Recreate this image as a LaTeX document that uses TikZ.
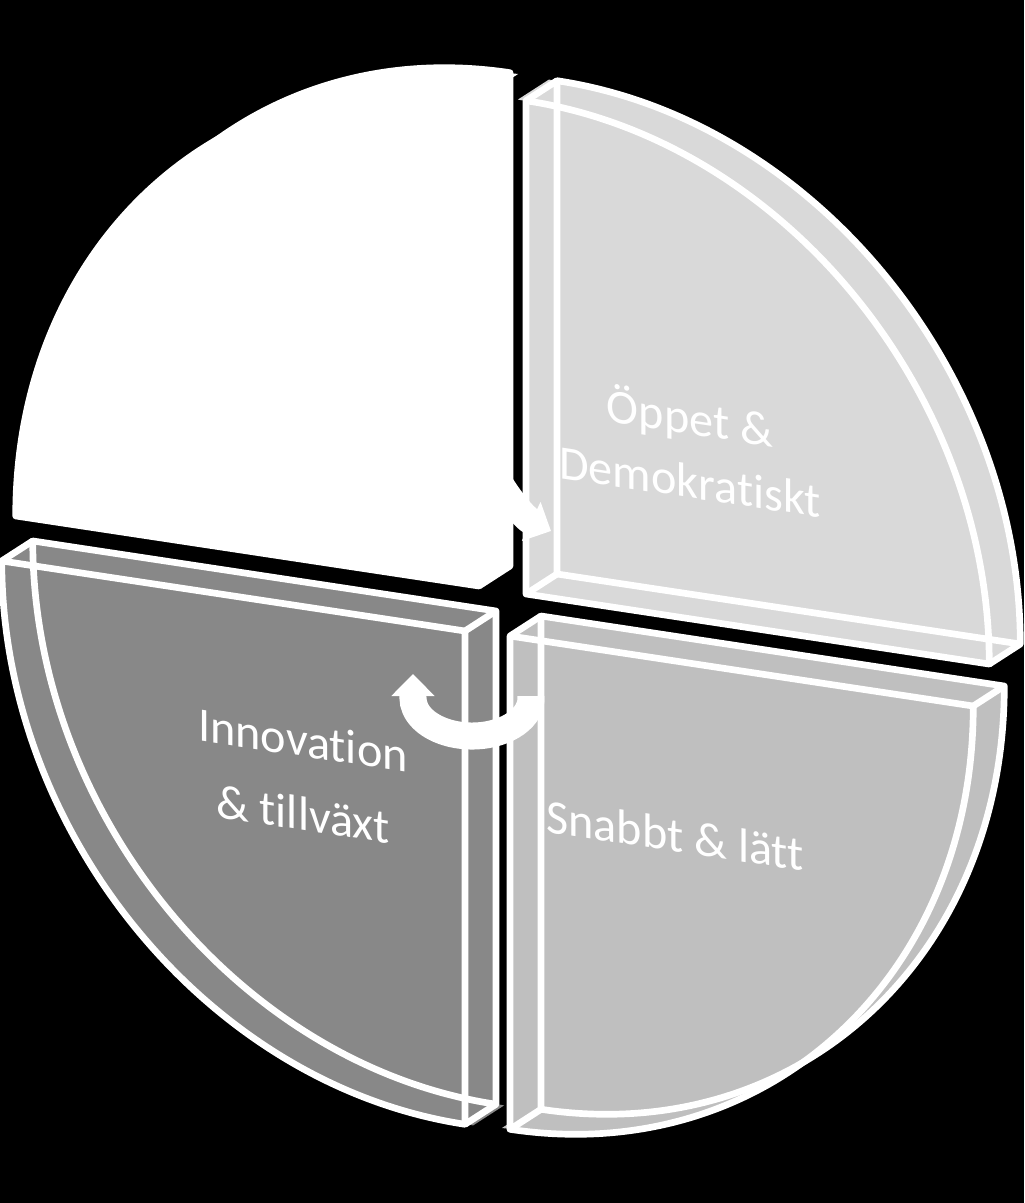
\documentclass[tikz,border=0pt]{standalone}
\usepackage{fontspec}
\setmainfont{Carlito}[Ligatures=NoCommon]
\usetikzlibrary{arrows.meta}

\definecolor{seglight}{HTML}{D9D9D9}
\definecolor{segmid}{HTML}{BFBFBF}
\definecolor{segdark}{HTML}{888888}

% one extruded quarter; #2/#3 give the quadrant (+1 or -1)
\newcommand{\slab}[3]{%
  \coordinate (fc) at (0,0);
  \coordinate (fa) at (0,#3);
  \coordinate (fb) at (#2,0);
  \coordinate (fka) at ({0.552*(#2)},#3);
  \coordinate (fkb) at (#2,{0.552*(#3)});
  \begin{scope}[back]
    \coordinate (bc) at (0,0);
    \coordinate (ba) at (0,#3);
    \coordinate (bb) at (#2,0);
    \coordinate (bka) at ({0.552*(#2)},#3);
    \coordinate (bkb) at (#2,{0.552*(#3)});
  \end{scope}
  \fill[#1] (bc) -- (ba) .. controls (bka) and (bkb) .. (bb) -- cycle;
  \fill[#1] (fc) -- (fa) -- (ba) -- (bc) -- cycle;
  \fill[#1] (fc) -- (fb) -- (bb) -- (bc) -- cycle;
  \fill[#1] (fa) .. controls (fka) and (fkb) .. (fb) -- (bb) .. controls (bkb) and (bka) .. (ba) -- cycle;
  % curved wall, swept in small steps
  \foreach \t in {0,5,...,85}
    \fill[#1] ({(#2)*cos(\t)},{(#3)*sin(\t)}) -- ++(0.31cm,0.20cm)
      -- ++({(#2)*(cos(\t+6)-cos(\t))},{(#3)*(sin(\t+6)-sin(\t))})
      -- ({(#2)*cos(\t+6)},{(#3)*sin(\t+6)}) -- cycle;
  \fill[#1] (fc) -- (fa) .. controls (fka) and (fkb) .. (fb) -- cycle;
  % edges
  \draw[rim] (bc) -- (ba) .. controls (bka) and (bkb) .. (bb) -- cycle;
  \draw[rim] (fc) -- (fa) .. controls (fka) and (fkb) .. (fb) -- cycle;
  \draw[rim] (fc) -- (bc) (fa) -- (ba) (fb) -- (bb);
}

\begin{document}
\begin{tikzpicture}[
  x=0.01cm, y=0.01cm,
  back/.style={shift={(0.31cm,0.20cm)}},
  rim/.style={draw=white, line width=1.9pt, line join=round},
  quarter/.style={x={(4.63cm,-0.70cm)}, y={(0cm,4.93cm)}},
  label/.style={text=white, align=center, yslant=-0.151},
  cycarrow/.style={draw=white, line width=0.27cm, -{Triangle[width=0.42cm,length=0.22cm]}}
]
\useasboundingbox (0,0) rectangle (1024,-1203);
\fill[black] (0,0) rectangle (1024,-1203);

% the four quarters
\begin{scope}[shift={(479,-586)}, quarter]
  \slab{white}{-1}{1}
\end{scope}
\begin{scope}[shift={(526,-594)}, quarter]
  \slab{seglight}{1}{1}
\end{scope}
\begin{scope}[shift={(465,-631)}, quarter]
  \slab{segdark}{-1}{-1}
\end{scope}
\begin{scope}[shift={(510,-636)}, quarter]
  \slab{segmid}{1}{-1}
\end{scope}

% cycle arrows
\coordinate (turn) at (472,-698);
\draw[cycarrow] (494,-474) .. controls (508,-498) and (524,-518) .. (551,-531);
\draw[cycarrow] ([shift={(3:0.59cm and 0.38cm)}]turn) arc[start angle=3, end angle=-180, x radius=0.59cm, y radius=0.38cm] -- ++(0,0.24cm);

% labels
\node[label, font=\fontsize{13.7pt}{18pt}\selectfont] (open) at (690,-447) {Öppet \&\\Demokratiskt};
\node[label, font=\fontsize{13.7pt}{21pt}\selectfont] (growth) at (303,-777) {Innovation\\\& tillväxt};
\node[label, font=\fontsize{13.7pt}{16pt}\selectfont] (quick) at (675,-835) {Snabbt \& lätt};
\end{tikzpicture}
\end{document}
